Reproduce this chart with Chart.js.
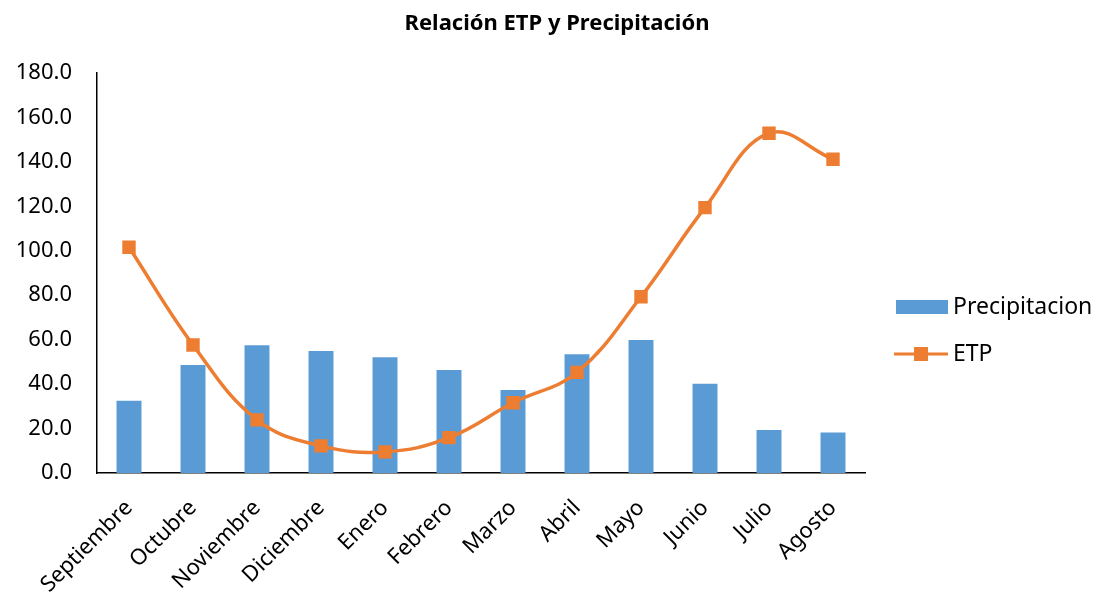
<!DOCTYPE html>
<html>
<head>
<meta charset="utf-8">
<script src="https://cdn.jsdelivr.net/npm/chart.js@4"></script>
<style>
html,body{margin:0;padding:0;background:#fff;}
#wrap{width:1096px;height:592px;}
</style>
</head>
<body>
<div id="wrap"><canvas id="c" width="1096" height="592"></canvas></div>
<script>
const months = ["Septiembre","Octubre","Noviembre","Diciembre","Enero","Febrero","Marzo","Abril","Mayo","Junio","Julio","Agosto"];
const precipitacion = [32.5, 48.6, 57.5, 54.9, 52.1, 46.4, 37.4, 53.4, 59.9, 40.2, 19.4, 18.2];
const etp = [101.6, 57.6, 23.9, 12.2, 9.5, 15.9, 31.6, 45.3, 79.3, 119.4, 152.9, 141.2];
const yTicks = [0, 20, 40, 60, 80, 100, 120, 140, 160, 180];
const titleText = 'Relación ETP y Precipitación';

const FONT = "'Noto Sans', sans-serif";
const BLUE = "#5B9BD5";
const ORANGE = "#ED7D31";

const customDecor = {
  id: 'customDecor',
  afterDraw(chart) {
    const ctx = chart.ctx;
    const ds = chart.data.datasets;
    const bar = ds.find(d => d.type === 'bar');
    const line = ds.find(d => d.type === 'line');
    ctx.save();
    // title
    ctx.font = "bold 22px " + FONT;
    ctx.textAlign = 'center';
    ctx.textBaseline = 'middle';
    ctx.fillStyle = '#000';
    ctx.fillText(titleText, 557, 24);
    // legend
    const x0 = 896, y0 = 307, gap = 47;
    ctx.textAlign = 'left';
    ctx.font = "23px " + FONT;
    ctx.fillStyle = bar.backgroundColor;
    ctx.fillRect(x0, y0 - 7, 52, 14);
    ctx.fillStyle = '#000';
    ctx.fillText(bar.label, x0 + 57, y0);
    const y1 = y0 + gap;
    ctx.strokeStyle = line.borderColor;
    ctx.lineWidth = 3;
    ctx.beginPath();
    ctx.moveTo(x0 - 2, y1);
    ctx.lineTo(x0 + 52, y1);
    ctx.stroke();
    ctx.fillStyle = line.pointBackgroundColor;
    ctx.fillRect(x0 + 25 - 7, y1 - 7, 14, 14);
    ctx.fillStyle = '#000';
    ctx.fillText(line.label, x0 + 57, y1);
    ctx.restore();
  }
};

new Chart(document.getElementById('c'), {
  type: 'bar',
  data: {
    labels: months,
    datasets: [
      {
        type: 'line',
        label: 'ETP',
        data: etp,
        borderColor: ORANGE,
        backgroundColor: ORANGE,
        pointBackgroundColor: ORANGE,
        pointBorderColor: ORANGE,
        pointStyle: 'rect',
        pointRadius: 7,
        pointHoverRadius: 7,
        borderWidth: 3.5,
        tension: 0.4,
        order: 0
      },
      {
        type: 'bar',
        label: 'Precipitacion',
        data: precipitacion,
        backgroundColor: BLUE,
        categoryPercentage: 1.0,
        barPercentage: 0.39,
        order: 1
      }
    ]
  },
  options: {
    responsive: false,
    animation: false,
    devicePixelRatio: 1,
    layout: { padding: { left: 16, right: 231, top: 73, bottom: 0 } },
    plugins: {
      legend: { display: false },
      tooltip: { enabled: false },
      title: { display: false }
    },
    scales: {
      x: {
        offset: true,
        grid: { display: false, drawTicks: false },
        border: { display: true, color: '#000', width: 1.5 },
        afterFit(axis) { axis.paddingLeft = 0; axis.paddingRight = 0; axis.height = 119; },
        ticks: {
          color: '#000',
          font: { family: FONT, size: 22 },
          maxRotation: 45,
          minRotation: 45,
          padding: 22
        }
      },
      y: {
        min: 0,
        max: 180,
        afterBuildTicks(axis) { axis.ticks = yTicks.map(v => ({ value: v })); },
        afterFit(axis) { axis.width = 81; },
        grid: { display: false, drawTicks: false },
        border: { display: true, color: '#000', width: 1.5 },
        ticks: {
          color: '#000',
          font: { family: FONT, size: 22 },
          padding: 25,
          callback: v => Number(v).toFixed(1)
        }
      }
    }
  },
  plugins: [customDecor]
});
</script>
</body>
</html>
